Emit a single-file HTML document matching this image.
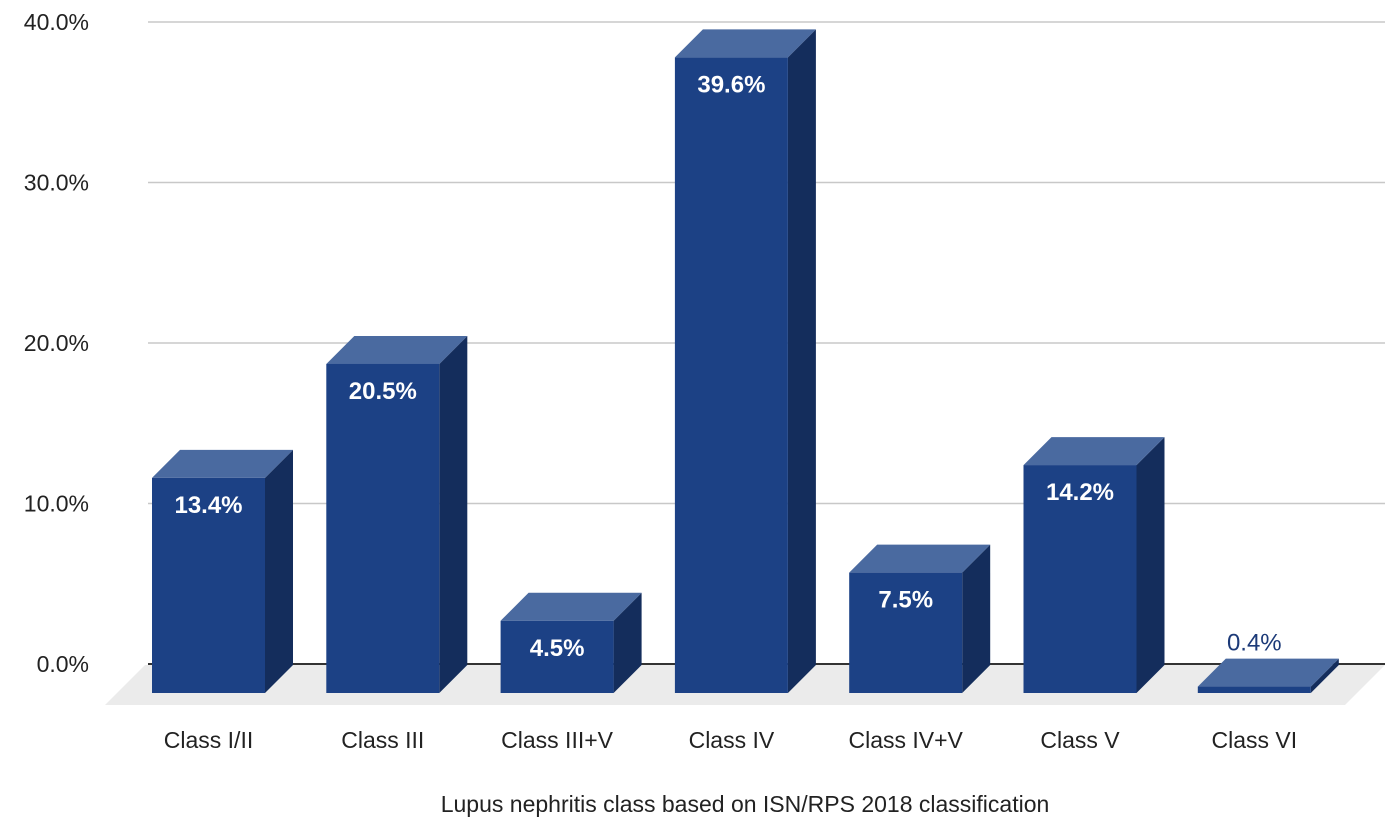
<!DOCTYPE html>
<html><head><meta charset="utf-8"><style>
body{margin:0;background:#fff;}
svg text{font-family:"Liberation Sans",Arial,sans-serif;}
</style></head><body>
<svg id="chart" width="1395" height="834" xmlns="http://www.w3.org/2000/svg"></svg>
<script>
const categories=["Class I/II","Class III","Class III+V","Class IV","Class IV+V","Class V","Class VI"];
const values=[13.4,20.5,4.5,39.6,7.5,14.2,0.4];
const ticks=[0,10,20,30,40];
const tickLabels=["0.0%","10.0%","20.0%","30.0%","40.0%"];
const NS="http://www.w3.org/2000/svg";
const svg=document.getElementById('chart');
const zeroY=664, pxPer=16.05, depth=28, frontBase=zeroY+depth+1;
const x0=152, step=174.3, bw=113;
function yGrid(v){return zeroY-v*pxPer;}
function h(v){return v*pxPer;}
function mk(tag,attrs,parent){const e=document.createElementNS(NS,tag);for(const k in attrs)e.setAttribute(k,attrs[k]);(parent||svg).appendChild(e);return e;}
const floor=mk('polygon',{points:"145,665 1385,665 1345,705 105,705",fill:"#ebebeb"});


ticks.forEach((t,i)=>{
  const y=yGrid(t);
  const l=mk('line',{x1:148,x2:1385,y1:y,y2:y,stroke:t===0?"#333":"#c8c8c8","stroke-width":t===0?2:1.5});
  
  
  const tx=mk('text',{x:89,y:y+8,"text-anchor":"end","font-size":23,fill:"#222"});
  tx.textContent=tickLabels[i];
  
  
});
categories.forEach((c,i)=>{
  const x=x0+i*step, v=values[i];
  const top=frontBase-h(v);
  const g=mk('g',{});
  
  
  mk('polygon',{points:`${x+bw},${top} ${x+bw+depth},${top-depth} ${x+bw+depth},${frontBase-depth} ${x+bw},${frontBase}`,fill:"#142d5c"},g);
  mk('polygon',{points:`${x},${top} ${x+depth},${top-depth} ${x+bw+depth},${top-depth} ${x+bw},${top}`,fill:"#4a6aa0"},g);
  mk('rect',{x:x,y:top,width:bw,height:frontBase-top,fill:"#1c4185"},g);
  const inside=h(v)>40;
  const t=mk('text',{x:x+bw/2,y:inside?top+35:top-depth-8,"text-anchor":"middle","font-size":24,"font-weight":inside?"bold":"normal",fill:inside?"#fff":"#1c3a78"});
  t.textContent=v.toFixed(1)+"%";
  
  
  const cl=mk('text',{x:x+bw/2,y:748,"text-anchor":"middle","font-size":23,fill:"#222"});
  cl.textContent=c;
  
  
});
const title=mk('text',{x:745,y:812,"text-anchor":"middle","font-size":23,fill:"#222"});
title.textContent="Lupus nephritis class based on ISN/RPS 2018 classification";


</script>
</body></html>
